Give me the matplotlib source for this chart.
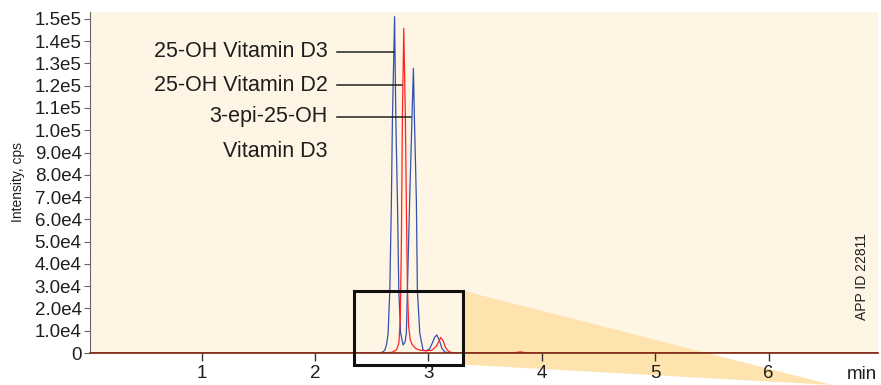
import matplotlib
matplotlib.use("Agg")
import matplotlib.pyplot as plt
from matplotlib.patches import Rectangle, Polygon

plt.rcParams['font.family'] = ['Liberation Sans', 'DejaVu Sans']

# 25-OH Vitamin D3 + 3-epi-25-OH Vitamin D3 trace (blue)
blue_t = [0.0, 2.57, 2.60, 2.616, 2.632, 2.645, 2.660, 2.674, 2.683, 2.702,
          2.713, 2.727, 2.739, 2.755, 2.777, 2.795, 2.806, 2.815, 2.835, 2.855,
          2.868, 2.877, 2.894, 2.903, 2.924, 2.953, 2.98, 3.01, 3.035, 3.055,
          3.074, 3.095, 3.12, 3.147, 3.20, 6.97]
blue_i = [0, 0, 500, 1300, 4000, 9000, 28300, 68700, 105000, 151000,
          105000, 68700, 28300, 9000, 3600, 5000, 9000, 28300, 68700, 105000,
          127800, 105000, 68700, 28300, 9000, 1300, 1000, 1800, 4500, 7000,
          8100, 6000, 2000, 400, 0, 0]

# 25-OH Vitamin D2 trace (red)
red_t = [0.0, 2.60, 2.68, 2.72, 2.74, 2.752, 2.762, 2.771, 2.783, 2.797,
         2.806, 2.815, 2.826, 2.84, 2.86, 2.89, 2.93, 2.98, 3.03, 3.07,
         3.09, 3.109, 3.13, 3.15, 3.18, 3.22, 3.70, 3.78, 3.81, 3.84, 3.90, 6.97]
red_i = [0, 0, 300, 1500, 4500, 15000, 50000, 106000, 145800, 106000,
         65000, 30000, 12000, 6000, 3500, 2000, 1200, 1000, 1200, 3000,
         5000, 7000, 5500, 2500, 600, 0, 0, 250, 500, 250, 0, 0]

y_ticks = [0, 1e4, 2e4, 3e4, 4e4, 5e4, 6e4, 7e4, 8e4, 9e4,
           1e5, 1.1e5, 1.2e5, 1.3e5, 1.4e5, 1.5e5]
y_labels = ['0', '1.0e4', '2.0e4', '3.0e4', '4.0e4', '5.0e4', '6.0e4', '7.0e4',
            '8.0e4', '9.0e4', '1.0e5', '1.1e5', '1.2e5', '1.3e5', '1.4e5', '1.5e5']
x_ticks = [1, 2, 3, 4, 5, 6]

# peak labels and where their leader lines meet the peaks
peak_names = ['25-OH Vitamin D3', '25-OH Vitamin D2', '3-epi-25-OH']
peak_label_y = [135200, 120300, 106000]
peak_line_end = [2.693, 2.763, 2.851]

fig = plt.figure(figsize=(8.81, 3.85), dpi=100)
ax = fig.add_axes([90 / 881, 32 / 385, 788 / 881, 341 / 385])
ax.set_facecolor('#fef5e5')

ax.set_xlim(0.016, 6.965)
ax.set_ylim(0, 153100)

# zoom box and wedge toward the (cropped) inset
box_x0, box_x1 = 2.347, 3.304
box_y0, box_y1 = -5200, 28000
wedge = Polygon([[box_x1, box_y1], [box_x1, box_y0], [6.56, -14370]],
                closed=True, facecolor='#fee3ae', edgecolor='none',
                zorder=1, clip_on=False)
ax.add_patch(wedge)

ax.plot(blue_t, blue_i, color='#3352b0', lw=0.9, zorder=2)
ax.plot(red_t, red_i, color='#ff2424', lw=0.9, zorder=2.1)

box = Rectangle((box_x0, box_y0), box_x1 - box_x0, box_y1 - box_y0,
                fill=False, edgecolor='#111111', lw=2.2, zorder=5, clip_on=False)
ax.add_patch(box)

for name, ly, lx in zip(peak_names, peak_label_y, peak_line_end):
    ax.text(2.11, ly, name, ha='right', va='center', fontsize=15.5, color='#1e1e1e')
    ax.plot([2.195, lx], [ly, ly], color='#222222', lw=1.1, zorder=3)
ax.text(2.11, 90300, 'Vitamin D3', ha='right', va='center', fontsize=15.5, color='#1e1e1e')

ax.set_yticks(y_ticks)
ax.set_yticklabels(y_labels)
ax.set_xticks(x_ticks)
ax.set_xticklabels([str(v) for v in x_ticks])
ax.tick_params(axis='y', length=4, width=0.8, color='#666666', labelsize=13.5,
               labelcolor='#1e1e1e', pad=2)
ax.tick_params(axis='x', length=5.5, width=1.0, color='#333333', labelsize=13.5,
               labelcolor='#1e1e1e', pad=3)

for s in ['top', 'right']:
    ax.spines[s].set_visible(False)
ax.spines['left'].set_color('#666666')
ax.spines['left'].set_linewidth(0.8)
ax.spines['bottom'].set_color('#7a2a14')
ax.spines['bottom'].set_linewidth(1.2)

ax.set_ylabel('Intensity, cps', fontsize=10, color='#1e1e1e', labelpad=7)
ax.text(0.98, -0.064, 'min', transform=ax.transAxes, ha='center', va='center',
        fontsize=13.5, color='#1e1e1e')
ax.text(0.98, 0.223, 'APP ID 22811', transform=ax.transAxes, rotation=90,
        ha='center', va='center', fontsize=10, color='#1e1e1e')

fig.savefig('out.png', dpi=100)
